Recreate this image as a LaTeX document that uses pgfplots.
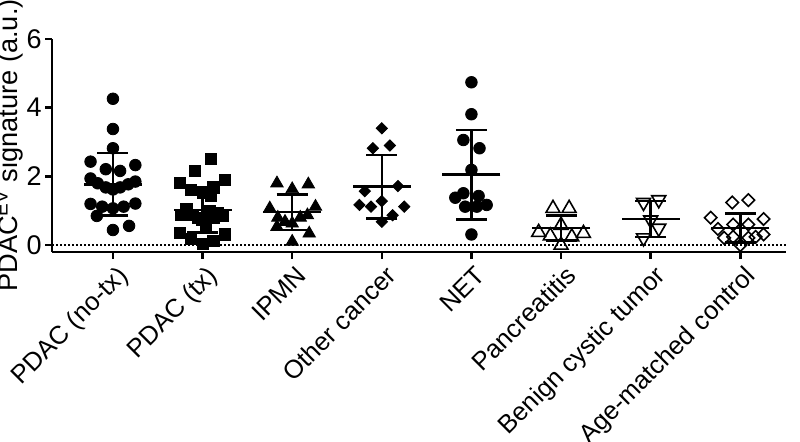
\documentclass[border=0pt]{standalone}
\usepackage{fontspec}
\setmainfont{Liberation Sans}
\usepackage{pgfplots}
\usepackage{pgfplotstable}
\pgfplotsset{compat=1.18}

% group index + jitter, value
\pgfplotstableread{
x y
0.00 4.26
0.00 3.38
0.00 2.82
-0.25 2.43
0.25 2.33
-0.08 2.21
0.08 2.16
-0.25 1.94
0.25 1.85
-0.17 1.80
0.17 1.77
-0.08 1.68
0.00 1.62
0.08 1.68
-0.25 1.20
0.25 1.21
-0.12 1.12
0.12 1.12
0.00 1.07
-0.18 0.85
0.00 0.44
0.18 0.56
}\notx
\pgfplotstableread{
x y
1.09 2.50
0.91 2.16
0.75 1.80
1.25 1.90
0.87 1.60
1.12 1.68
1.00 1.51
1.09 1.43
0.82 1.04
0.76 0.87
0.89 0.87
0.99 0.73
1.04 0.53
1.17 0.94
1.23 0.85
1.08 0.98
0.95 0.80
1.12 0.80
0.75 0.36
0.87 0.17
1.00 0.03
1.12 0.12
1.25 0.31
}\tx
\pgfplotstableread{
x y
1.83 1.80
2.18 1.77
2.00 1.63
1.75 1.07
2.26 1.12
1.84 0.80
1.92 0.68
2.00 0.63
2.09 0.80
2.17 0.87
1.83 0.53
2.19 0.34
2.00 0.10
}\ipmn
\pgfplotstableread{
x y
3.00 3.40
2.90 2.82
3.09 2.90
2.81 1.57
3.18 1.72
3.00 1.28
2.75 1.17
2.88 1.12
3.25 1.12
3.12 0.87
3.00 0.68
}\other
\pgfplotstableread{
x y
4.00 4.74
4.00 3.81
3.91 3.06
4.09 2.82
4.00 2.19
3.82 1.38
3.91 1.51
4.08 1.43
3.93 1.12
4.06 1.12
4.17 1.17
4.00 0.31
}\net
\pgfplotstableread{
x y
4.91 1.07
5.09 1.07
5.00 0.58
4.75 0.37
4.88 0.27
5.12 0.24
5.25 0.34
5.00 0.00
}\panc
\pgfplotstableread{
x y
5.92 1.24
6.09 1.32
6.00 0.73
6.09 0.49
5.92 0.21
}\benign
\pgfplotstableread{
x y
6.91 1.24
7.09 1.31
6.67 0.80
7.26 0.76
6.92 0.60
7.09 0.60
6.75 0.47
6.82 0.21
6.92 0.24
7.09 0.21
7.17 0.24
7.26 0.31
7.00 0.00
}\ctrl
% mean and SD per group
\pgfplotstableread{
x mean sd
0 1.77 0.91
1 1.02 0.66
2 0.96 0.52
3 1.70 0.92
4 2.05 1.30
5 0.50 0.37
6 0.76 0.52
7 0.50 0.42
}\stats

\begin{document}
\begin{tikzpicture}
\begin{axis}[
  name=ax,
  scale only axis,
  width=367pt, height=106.5pt,
  xmin=-0.68, xmax=7.51,
  ymin=-0.2, ymax=6,
  axis x line*=bottom, axis y line*=left,
  axis line style={line width=1.3pt},
  tick style={line width=1.3pt, black},
  tick align=outside,
  major tick length=3.5pt,
  xtick={0,...,7},
  xticklabels={PDAC (no-tx), PDAC (tx), IPMN, Other cancer, NET, Pancreatitis, Benign cystic tumor, Age-matched control},
  xticklabel style={xshift=1.5pt, yshift=-2.5pt, rotate=45, anchor=north east, inner sep=0pt,
    font=\fontsize{12.8}{15}\selectfont},
  ytick={0,2,4,6},
  yticklabel style={inner sep=1.5pt, font=\fontsize{13.5}{15}\selectfont},
  /pgf/number format/assume math mode=true,
  ylabel={PDAC\textsuperscript{EV} signature (a.u.)},
  ylabel style={at={(axis description cs:0,0.5)}, anchor=south, inner sep=0pt, yshift=14pt,
    font=\fontsize{13.6}{16}\selectfont},
  clip=false,
]
\addplot[black, line width=0.8pt, dash pattern=on 1pt off 1pt] coordinates {(-0.68,0) (7.51,0)};

\addplot[only marks, mark=*, mark size=2.9pt, black] table {\notx};
\addplot[only marks, mark=square*, mark size=2.8pt, black] table {\tx};
\addplot[only marks, mark=triangle*, mark size=3.6pt, black] table {\ipmn};
\addplot[only marks, mark=square*, mark size=2.0pt, black, mark options={rotate=45}] table {\other};
\addplot[only marks, mark=*, mark size=2.9pt, black] table {\net};
\addplot[only marks, mark=triangle, mark size=4pt, black, mark options={fill=white, line width=0.8pt}] table {\panc};
\addplot[only marks, mark=triangle, mark size=4pt, black, mark options={fill=white, line width=0.8pt, rotate=180}] table {\benign};
\addplot[only marks, mark=square, mark size=2.2pt, black, mark options={fill=white, line width=0.8pt, rotate=45}] table {\ctrl};

\addplot[only marks, black, mark=-, mark size=14.5pt, mark options={line width=1.3pt},
  error bars/.cd, y dir=both, y explicit,
  error bar style={line width=1.3pt, black},
  error mark options={line width=1.3pt, mark size=7.75pt, black, rotate=90}]
  table[x=x, y=mean, y error=sd] {\stats};
\end{axis}
\pgfresetboundingbox
\path ([xshift=-26pt, yshift=-95pt]ax.south west) rectangle ([xshift=7pt, yshift=19.5pt]ax.north east);
\end{tikzpicture}
\end{document}
